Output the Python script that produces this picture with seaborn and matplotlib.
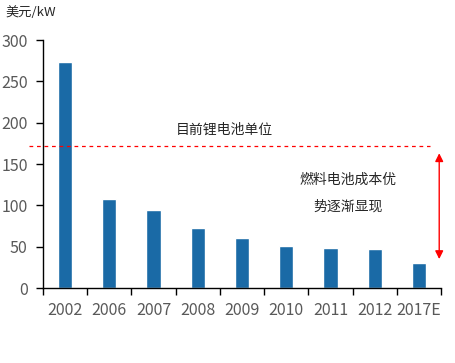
import matplotlib
matplotlib.use("Agg")
import matplotlib.pyplot as plt
import seaborn as sns
import pandas as pd

years = ['2002', '2006', '2007', '2008', '2009', '2010', '2011', '2012', '2017E']
cost = [273, 108, 94, 72, 60, 51, 48, 47, 30]
li_battery = 172
arrow_top = 163
arrow_bottom = 35

sns.set_style('white')
plt.rcParams['font.family'] = ['Noto Sans CJK SC', 'DejaVu Sans']

df = pd.DataFrame({'year': years, 'cost': cost})

fig = plt.figure(figsize=(4.55, 3.63), dpi=100)
ax = fig.add_axes([0.0945, 0.2066, 0.8747, 0.6832])

sns.barplot(data=df, x='year', y='cost', color='#1A6AA6', width=0.32,
            saturation=1, ax=ax)

ax.set_xlim(-0.5, 8.5)
ax.set_ylim(0, 300)
ax.set_yticks(range(0, 301, 50))
ax.set_xlabel('')
ax.set_ylabel('')

for s in ['top', 'right']:
    ax.spines[s].set_visible(False)
for s in ['left', 'bottom']:
    ax.spines[s].set_color('black')
    ax.spines[s].set_linewidth(1)

ax.tick_params(axis='y', direction='out', length=5, width=1, color='black',
               labelsize=11.5, labelcolor='#595959', pad=6, left=True)
ax.tick_params(axis='x', which='major', length=0, labelsize=11.5,
               labelcolor='#595959', pad=10)
ax.set_xticks([i - 0.5 for i in range(10)], minor=True)
ax.tick_params(axis='x', which='minor', direction='out', length=5, width=1,
               color='black', bottom=True)

ax.axhline(li_battery, xmin=-0.035, xmax=0.972, color='red', linestyle=(0, (3, 3)),
           linewidth=0.9, clip_on=False)

ax.annotate('', xy=(8.46, arrow_top), xytext=(8.46, arrow_bottom),
            arrowprops=dict(arrowstyle='<|-|>', color='red', lw=1,
                            mutation_scale=12, shrinkA=0, shrinkB=0),
            annotation_clip=False)

ax.text(3.61, 191, '目前锂电池单位', ha='center', va='center', fontsize=10)
ax.text(6.39, 131, '燃料电池成本优', ha='center', va='center', fontsize=10)
ax.text(6.39, 98, '势逐渐显现', ha='center', va='center', fontsize=10)

fig.text(5 / 455, 1 - 12 / 363, '美元/kW', ha='left', va='center', fontsize=9.5)

fig.savefig('out.png', dpi=100)
